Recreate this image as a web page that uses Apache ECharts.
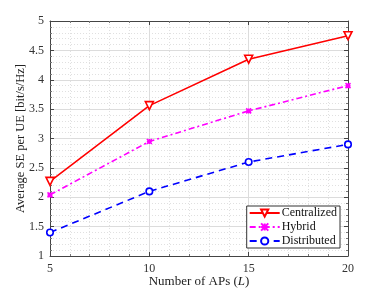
<!DOCTYPE html>
<html><head><meta charset="utf-8">
<script src="https://cdn.jsdelivr.net/npm/echarts@6/dist/echarts.min.js"></script>
<style>html,body{margin:0;padding:0;background:#fff}#c{width:385px;height:289px}</style>
</head><body><div id="c"></div>
<script>
const xValues = [5, 10, 15, 20];
const centralized = [2.27, 3.56, 4.35, 4.75];
const hybrid = [2.04, 2.95, 3.47, 3.90];
const distributed = [1.40, 2.10, 2.60, 2.90];
const seriesNames = ['Centralized', 'Hybrid', 'Distributed'];

const font = 'Liberation Serif';
const axisCommon = {
  axisLine: {show: true, lineStyle: {color: '#444', width: 1}},
  axisTick: {show: true, inside: true, length: 4, lineStyle: {color: '#444'}},
  minorTick: {show: true, splitNumber: 5, length: 2, lineStyle: {color: '#777'}},
  axisLabel: {fontFamily: font, fontSize: 12, color: '#333'}
};
const pair = arr => xValues.map((x, i) => [x, arr[i]]);

const chart = echarts.init(document.getElementById('c'));
chart.setOption({
  animation: false,
  backgroundColor: '#fff',
  grid: {left: 50, right: 37, top: 21, bottom: 33, containLabel: false, outerBoundsMode: 'none'},
  xAxis: [
    Object.assign({}, axisCommon, {
      type: 'value', min: 5, max: 20, interval: 5, position: 'bottom',
      name: '{a|Number of APs (}{b|L}{a|)}', nameLocation: 'middle', nameGap: 19, nameMoveOverlap: false,
      nameTextStyle: {verticalAlign: 'top', rich: {a: {fontFamily: font, fontSize: 13, color: '#222'}, b: {fontFamily: font, fontSize: 13, fontStyle: 'italic', color: '#222'}}},
      axisLabel: {fontFamily: font, fontSize: 12, color: '#333', margin: 7},
      splitLine: {show: true, lineStyle: {color: '#dcdcdc', width: 1}},
      minorSplitLine: {show: true, lineStyle: {color: '#e0e0e0', type: [1, 2]}}
    }),
    Object.assign({}, axisCommon, {
      type: 'value', min: 5, max: 20, interval: 5, position: 'top',
      axisLabel: {show: false}, splitLine: {show: false}
    })
  ],
  yAxis: [
    Object.assign({}, axisCommon, {
      type: 'value', min: 1, max: 5, interval: 0.5, position: 'left',
      name: 'Average SE per UE [bit/s/Hz]', nameLocation: 'middle', nameGap: 23, nameMoveOverlap: false,
      nameTextStyle: {fontFamily: font, fontSize: 12.5, color: '#222'},
      axisLabel: {fontFamily: font, fontSize: 12, color: '#333', margin: 6},
      splitLine: {show: true, lineStyle: {color: '#dcdcdc', width: 1}},
      minorSplitLine: {show: true, lineStyle: {color: '#e0e0e0', type: [1, 2]}}
    }),
    Object.assign({}, axisCommon, {
      type: 'value', min: 1, max: 5, interval: 0.5, position: 'right',
      axisLabel: {show: false}, splitLine: {show: false}
    })
  ],
  legend: {
    right: 45, bottom: 41, orient: 'vertical',
    backgroundColor: '#fff', borderColor: '#333', borderWidth: 1, borderRadius: 0,
    padding: [1, 3, 1, 2], itemGap: 2, itemWidth: 30, itemHeight: 9,
    textStyle: {fontFamily: font, fontSize: 12, color: '#111', padding: [0, 0, 0, -3]},
    data: seriesNames
  },
  series: [
    {name: seriesNames[0], type: 'line', data: pair(centralized), color: '#ff0000',
     lineStyle: {width: 1.6, color: '#ff0000'}, symbol: 'triangle', symbolRotate: 180, symbolSize: 8,
     itemStyle: {color: '#fff', borderColor: '#ff0000', borderWidth: 1.6}, z: 5},
    {name: seriesNames[1], type: 'line', data: pair(hybrid), color: '#ff00ff',
     lineStyle: {width: 1.6, color: '#ff00ff', type: [6, 3, 2, 3]},
     symbol: 'path://M0,0 L10,10 M10,0 L0,10 M5,0 L5,10 M0,5 L10,5', symbolSize: 5,
     itemStyle: {color: '#ff00ff', borderColor: '#ff00ff', borderWidth: 1.5}, z: 4},
    {name: seriesNames[2], type: 'line', data: pair(distributed), color: '#0000ff',
     lineStyle: {width: 1.6, color: '#0000ff', type: [7, 5]}, symbol: 'circle', symbolSize: 6.5,
     itemStyle: {color: '#fff', borderColor: '#0000ff', borderWidth: 1.6}, z: 3}
  ]
});
</script></body></html>
